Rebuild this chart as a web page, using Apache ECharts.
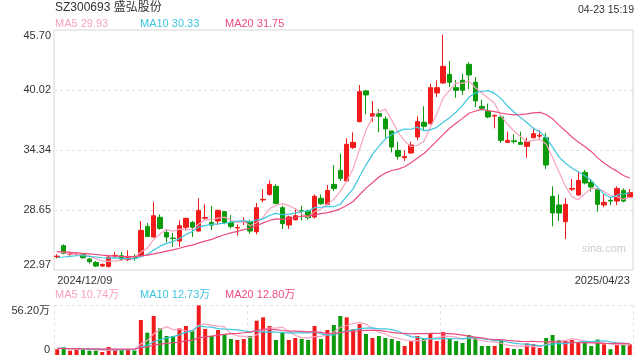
<!DOCTYPE html>
<html><head><meta charset="utf-8">
<script src="https://cdn.jsdelivr.net/npm/echarts@6/dist/echarts.min.js"></script>
<style>html,body{margin:0;padding:0;background:#fff}#c{width:640px;height:360px}</style>
</head><body><div id="c"></div>
<script>
const dates = [
'2024/12/09','2024/12/10','2024/12/11','2024/12/12','2024/12/13','2024/12/16','2024/12/17','2024/12/18','2024/12/19','2024/12/20',
'2024/12/23','2024/12/24','2024/12/25','2024/12/26','2024/12/27','2024/12/30','2024/12/31',
'2025/01/02','2025/01/03','2025/01/06','2025/01/07','2025/01/08','2025/01/09','2025/01/10','2025/01/13','2025/01/14','2025/01/15',
'2025/01/16','2025/01/17','2025/01/20','2025/01/21','2025/01/22','2025/01/23','2025/01/24','2025/01/27',
'2025/02/05','2025/02/06','2025/02/07','2025/02/10','2025/02/11','2025/02/12','2025/02/13','2025/02/14','2025/02/17','2025/02/18',
'2025/02/19','2025/02/20','2025/02/21','2025/02/24','2025/02/25','2025/02/26','2025/02/27','2025/02/28',
'2025/03/03','2025/03/04','2025/03/05','2025/03/06','2025/03/07','2025/03/10','2025/03/11','2025/03/12','2025/03/13','2025/03/14',
'2025/03/17','2025/03/18','2025/03/19','2025/03/20','2025/03/21','2025/03/24','2025/03/25','2025/03/26','2025/03/27','2025/03/28','2025/03/31',
'2025/04/01','2025/04/02','2025/04/03','2025/04/07','2025/04/08','2025/04/09','2025/04/10','2025/04/11','2025/04/14','2025/04/15',
'2025/04/16','2025/04/17','2025/04/18','2025/04/21','2025/04/22','2025/04/23'];

const opens = [24.23,25.27,24.48,24.44,24.48,24.01,23.69,23.35,23.31,24.30,
24.32,23.95,24.23,24.32,27.10,26.09,27.96,26.53,26.00,25.71,
27.01,27.48,26.66,27.88,27.48,27.61,28.49,27.48,26.95,27.52,
27.55,26.60,29.60,30.13,30.89,28.87,27.23,27.73,28.57,28.55,
27.99,29.76,29.19,31.08,32.41,31.40,34.56,37.02,39.93,37.53,
37.78,37.27,36.14,34.30,33.60,34.05,35.57,36.96,36.83,39.74,
40.68,41.50,40.24,40.94,42.45,40.75,38.47,37.97,37.55,37.46,
35.06,35.20,35.06,34.68,35.50,35.65,35.50,29.95,29.13,27.54,
30.62,30.07,32.22,31.27,30.58,29.13,29.57,29.50,30.51,29.88];
const closes = [24.28,24.54,24.52,24.47,24.13,23.76,23.35,23.50,24.20,24.35,
24.01,24.26,24.07,26.72,26.15,28.11,26.91,26.09,25.95,27.17,
27.86,27.01,28.62,27.94,27.23,28.62,27.48,27.10,27.00,27.57,
26.66,28.87,29.66,31.08,29.28,27.36,27.99,28.11,28.53,27.92,
29.95,29.25,30.51,30.70,31.65,34.87,35.06,39.86,39.55,37.78,
37.53,36.33,34.62,33.74,33.72,34.81,37.02,36.58,40.24,40.24,
42.26,40.75,39.99,39.99,41.44,38.98,38.28,37.46,37.61,35.25,
35.25,35.12,34.87,35.12,35.88,35.72,32.91,28.37,28.37,29.19,
30.70,31.46,31.21,30.83,29.19,29.38,29.50,30.70,29.50,30.30];
const lows = [24.07,24.45,24.32,24.32,24.07,23.57,23.25,23.25,23.19,24.13,
23.92,23.82,23.85,24.26,26.09,26.03,26.79,25.59,25.15,25.15,
26.72,26.09,26.60,27.73,26.76,27.23,27.29,26.91,26.22,27.23,
26.41,26.35,29.38,30.01,29.19,26.85,26.85,27.67,27.67,27.73,
27.86,29.13,29.13,30.45,31.40,31.34,34.43,36.96,37.71,36.96,
36.01,35.50,34.11,33.42,33.29,33.99,35.25,36.26,36.77,39.36,
40.62,40.30,39.29,39.55,40.11,38.41,38.09,37.33,36.39,35.00,
35.06,34.94,34.87,33.61,35.44,35.44,32.54,27.10,27.61,25.90,
30.45,30.01,31.08,30.39,28.49,28.93,29.13,29.13,29.38,29.82];
const highs = [24.45,25.40,24.70,24.64,24.54,24.13,23.82,23.57,24.26,24.70,
24.70,24.83,24.45,27.61,27.42,29.44,28.24,26.76,26.47,27.67,
27.92,27.61,29.76,29.19,29.06,28.68,28.55,28.18,27.29,27.98,
27.73,29.31,30.64,31.46,31.08,29.06,28.11,28.81,29.06,28.68,
30.13,30.13,31.02,32.91,33.99,35.44,36.01,40.49,39.99,38.98,
38.22,37.53,36.14,35.12,34.30,35.12,37.53,38.47,40.62,40.94,
45.23,42.77,40.94,41.57,42.64,41.25,39.10,38.72,37.71,37.53,
36.07,35.82,36.07,35.50,36.45,36.20,35.95,30.89,30.13,29.76,
31.59,32.28,32.47,31.59,30.70,30.20,29.82,30.89,30.70,30.64];
// volume in 万 (10k shares)
const volumes = [6.4,8.6,4.9,6.4,7.1,4.9,4.9,3.4,9.0,5.6,
6.4,6.4,4.9,39.3,25.1,43.8,30.0,21.4,21.4,30.0,
32.6,27.4,55.8,29.2,21.4,28.1,23.6,18.0,16.9,18.0,
21.4,38.6,42.3,32.6,16.9,25.1,16.9,19.1,18.0,16.9,
32.6,18.0,28.1,33.7,43.8,42.3,28.9,34.8,23.6,19.1,
21.4,19.1,18.0,15.7,10.1,15.7,21.4,19.1,24.4,15.7,
25.9,19.1,15.7,13.5,22.5,19.1,10.1,10.1,10.1,16.9,
7.9,6.7,6.7,13.1,12.4,7.9,19.1,22.5,16.9,15.7,
16.9,14.6,14.6,10.1,17.4,12.0,6.5,11.8,11.4,12.0];

// moving-average values before enough visible history exists
const priceMa5Lead = [24.70,24.58,24.51,24.45];
const priceMa10Lead = [24.13,24.20,24.26,24.32,24.32,24.26,24.20,24.13,24.10];
const priceMa20Lead = [24.72,24.68,24.64,24.60,24.55,24.50,24.44,24.38,24.33,24.28,24.25,24.24,24.24,24.30,24.38,24.50,24.62,24.75,24.88];
const volMa5Lead = [7.6,7.4,6.8,6.6];
const volMa10Lead = [7.5,7.4,7.2,7.0,6.9,6.7,6.5,6.3,6.4];
const volMa20Lead = [7.5,7.3,7.2,7.1,7.0,6.9,6.8,6.7,6.8,6.7,6.6,6.6,6.5,8.2,9.2,11.0,12.2,13.0,13.8];

const yTickValues = [22.97,28.65,34.34,40.02,45.70];
const volTickValues = [0,56.20];
const titleText = 'SZ300693 盛弘股份';
const timeText = '04-23 15:19';
const priceLegend = ['MA5 29.93','MA10 30.33','MA20 31.75'];
const volLegend = ['MA5 10.74万','MA10 12.73万','MA20 12.80万'];

const RED = '#f21b1b', GREEN = '#0a9a0a';
const MA_COLORS = ['#f7a3c0','#3ec6e0','#ec4c80'];
const FONT = '"Liberation Sans", Arial, "Noto Sans CJK SC", sans-serif';

function movingAvg(values, n, lead) {
  const out = [];
  for (let i = 0; i < values.length; i++) {
    if (i < n - 1) { out.push(lead[i]); continue; }
    let s = 0;
    for (let k = i - n + 1; k <= i; k++) s += values[k];
    out.push(+(s / n).toFixed(3));
  }
  return out;
}

const kData = opens.map((o, i) => [o, closes[i], lows[i], highs[i]]);
const volData = volumes.map((v, i) => ({
  value: v,
  itemStyle: { color: closes[i] >= opens[i] ? RED : GREEN }
}));

const pMA = [movingAvg(closes, 5, priceMa5Lead), movingAvg(closes, 10, priceMa10Lead), movingAvg(closes, 20, priceMa20Lead)];
const vMA = [movingAvg(volumes, 5, volMa5Lead), movingAvg(volumes, 10, volMa10Lead), movingAvg(volumes, 20, volMa20Lead)];

const dotted = { color: '#e2e2e2', width: 1, type: [3, 3] };

function lineSeries(data, color, xi) {
  return { type: 'line', data, xAxisIndex: xi, yAxisIndex: xi, symbol: 'none', showSymbol: false,
    lineStyle: { color, width: 1.2 }, z: 3, silent: true };
}

function legendTexts(items, top) {
  const xs = [55, 140, 225];
  return items.map((t, i) => ({ type: 'text', left: xs[i], top,
    style: { text: t, fill: MA_COLORS[i], font: '11px ' + FONT } }));
}

const chart = echarts.init(document.getElementById('c'), null, { renderer: 'canvas' });
chart.setOption({
  animation: false,
  backgroundColor: '#fff',
  grid: [
    { left: 54, right: 7, top: 30, height: 240, show: true, borderColor: '#d6d6d6', borderWidth: 1, backgroundColor: 'transparent' },
    { left: 54, right: 7, top: 305, height: 50, show: false }
  ],
  xAxis: [
    { type: 'category', data: dates, gridIndex: 0, boundaryGap: true,
      axisLine: { show: false }, axisTick: { show: false }, splitLine: { show: false },
      axisLabel: { color: '#333', fontSize: 11, fontFamily: FONT, margin: 5,
        interval: (idx) => idx === 0 || idx === dates.length - 1,
        alignMinLabel: 'left', alignMaxLabel: 'right', showMinLabel: true, showMaxLabel: true } },
    { type: 'category', data: dates, gridIndex: 1, boundaryGap: true,
      axisLine: { show: false }, axisTick: { show: false, interval: 29 }, axisLabel: { show: false },
      splitLine: { show: true, interval: 29, lineStyle: dotted } }
  ],
  yAxis: [
    { type: 'value', gridIndex: 0, min: 22.97, max: 45.70, scale: true,
      axisLine: { show: false }, axisTick: { show: false, customValues: yTickValues },
      axisLabel: { customValues: yTickValues, color: '#333', fontSize: 11, fontFamily: FONT, margin: 3,
        formatter: (v) => v.toFixed(2), verticalAlignMinLabel: 'bottom', verticalAlignMaxLabel: 'top' },
      splitLine: { show: true, lineStyle: dotted, showMinLine: false, showMaxLine: false } },
    { type: 'value', gridIndex: 1, min: 0, max: 56.20, interval: 56.20,
      axisLine: { show: false }, axisTick: { show: false },
      axisLabel: { color: '#333', fontSize: 11, fontFamily: FONT, margin: 4,
        formatter: (v) => v === 0 ? '0' : v.toFixed(2) + '万',
        verticalAlignMinLabel: 'bottom', verticalAlignMaxLabel: 'top' },
      splitLine: { show: true, lineStyle: dotted, showMinLine: false } }
  ],
  series: [
    { type: 'candlestick', data: kData, xAxisIndex: 0, yAxisIndex: 0, barWidth: 5,
      itemStyle: { color: RED, color0: GREEN, borderColor: RED, borderColor0: GREEN, borderWidth: 1 } },
    lineSeries(pMA[0], MA_COLORS[0], 0),
    lineSeries(pMA[1], MA_COLORS[1], 0),
    lineSeries(pMA[2], MA_COLORS[2], 0),
    { type: 'bar', data: volData, xAxisIndex: 1, yAxisIndex: 1, barWidth: 4 },
    lineSeries(vMA[0], MA_COLORS[0], 1),
    lineSeries(vMA[1], MA_COLORS[1], 1),
    lineSeries(vMA[2], MA_COLORS[2], 1)
  ],
  graphic: [
    { type: 'text', left: 55, top: 2, style: { text: titleText, fill: '#333', font: '12px ' + FONT } },
    { type: 'text', right: 6, top: 5, style: { text: timeText, fill: '#333', font: '10.5px ' + FONT } },
    ...legendTexts(priceLegend, 18),
    ...legendTexts(volLegend, 289),
    { type: 'text', left: 582, top: 243, style: { text: 'sina.com', fill: '#cccccc', font: '11px ' + FONT } }
  ]
});
</script>
</body></html>
